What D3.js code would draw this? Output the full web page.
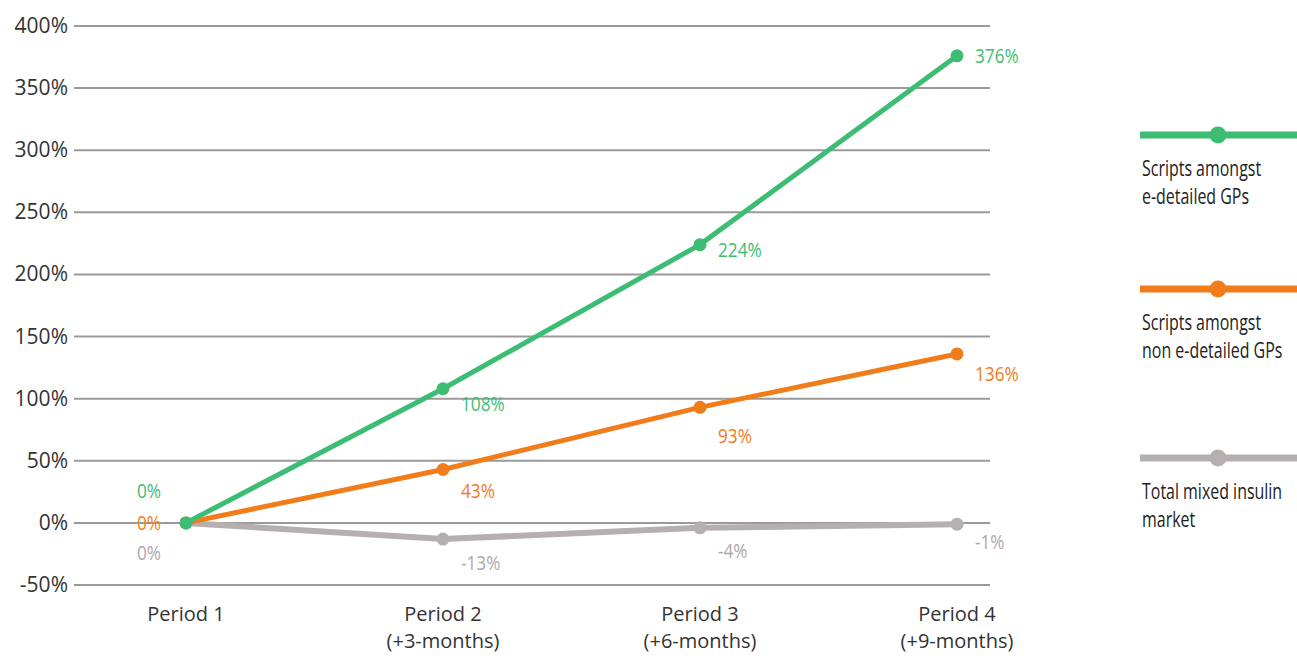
<!doctype html>
<head>
<meta charset="utf-8">
<script src="https://cdn.jsdelivr.net/npm/d3@7/dist/d3.min.js"></script>
<style>
body { margin: 0; background: #fff; }
text { font-family: "Open Sans", Lato, sans-serif; }
</style>
</head>
<body>
<script>
var periods = ["Period 1", "Period 2", "Period 3", "Period 4"];
var periodSub = ["", "(+3-months)", "(+6-months)", "(+9-months)"];
var yTicks = [-50, 0, 50, 100, 150, 200, 250, 300, 350, 400];

var eDetailed = [0, 108, 224, 376];
var nonDetailed = [0, 43, 93, 136];
var totalMarket = [0, -13, -4, -1];

var seriesNames = [["Scripts amongst", "e-detailed GPs"],
                   ["Scripts amongst", "non e-detailed GPs"],
                   ["Total mixed insulin", "market"]];
var colors = ["#3dbd74", "#f07d1a", "#b6afaf"];
var labelColors = ["#3dbd74", "#f07d1a", "#aea7a7"];
var series = [eDetailed, nonDetailed, totalMarket];

// label baseline offsets below each point (px)
var labelDy = [[0, 22, 12, 7], [0, 29, 36, 27], [0, 31, 30, 25]];

var W = 1297, H = 656;
var svg = d3.select("body").append("svg").attr("width", W).attr("height", H);

var x = d3.scalePoint().domain(periods).range([186, 957]);
var y = d3.scaleLinear().domain([-50, 400]).range([585, 26]);

// narrow text helper
function narrow(g, tx, ty, str, size, sx) {
  return g.append("text")
    .attr("transform", "translate(" + tx + "," + ty + ") scale(" + sx + ",1)")
    .style("font-size", size + "px")
    .text(str);
}

// grid
var grid = svg.append("g");
grid.selectAll("line").data(yTicks).enter().append("line")
  .attr("x1", 74).attr("x2", 990)
  .attr("y1", d => y(d)).attr("y2", d => y(d))
  .style("stroke", "#9a9a9a").style("stroke-width", 2);
grid.selectAll("text").data(yTicks).enter().append("text")
  .attr("x", 68).attr("y", d => y(d) + 7)
  .attr("text-anchor", "end")
  .style("font-size", "21px").style("fill", "#333")
  .text(d => d + "%");

// x labels
var xl = svg.append("g");
periods.forEach((p, i) => {
  xl.append("text").attr("x", x(p)).attr("y", 621).attr("text-anchor", "middle")
    .style("font-size", "20px").style("fill", "#333").text(p);
  if (periodSub[i]) xl.append("text").attr("x", x(p)).attr("y", 648).attr("text-anchor", "middle")
    .style("font-size", "20px").style("fill", "#333").text(periodSub[i]);
});

var line = d3.line().x((d, i) => x(periods[i])).y(d => y(d));

// draw gray first, then orange, then green
[2, 1, 0].forEach(s => {
  var g = svg.append("g");
  g.append("path").datum(series[s]).attr("d", line)
    .style("fill", "none").style("stroke", colors[s]).style("stroke-width", s == 2 ? 6 : 5);
  g.selectAll("circle").data(series[s]).enter().append("circle")
    .attr("cx", (d, i) => x(periods[i])).attr("cy", d => y(d)).attr("r", 6.5)
    .style("fill", colors[s]);
});

// value labels
series.forEach((vals, s) => {
  var g = svg.append("g").style("fill", labelColors[s]);
  vals.forEach((v, i) => {
    var tx, ty;
    if (i == 0) {
      tx = 137;
      ty = [498, 530, 560][s];
    } else {
      tx = x(periods[i]) + 18;
      ty = y(v) + labelDy[s][i];
    }
    narrow(g, tx, ty, v + "%", 20, 0.86);
  });
});

// legend
var legY = [135, 289, 458];
series.forEach((vals, s) => {
  var g = svg.append("g").attr("transform", "translate(1140," + legY[s] + ")");
  g.append("line").attr("x1", 0).attr("x2", 160).attr("y1", 0).attr("y2", 0)
    .style("stroke", colors[s]).style("stroke-width", 7);
  g.append("circle").attr("cx", 78).attr("cy", 0).attr("r", 8.5).style("fill", colors[s]);
  var tg = g.append("g").style("fill", "#222");
  seriesNames[s].forEach((t, k) => {
    narrow(tg, 2, 41 + k * 28, t, 21, 0.76);
  });
});
</script>
</body>
</html>
